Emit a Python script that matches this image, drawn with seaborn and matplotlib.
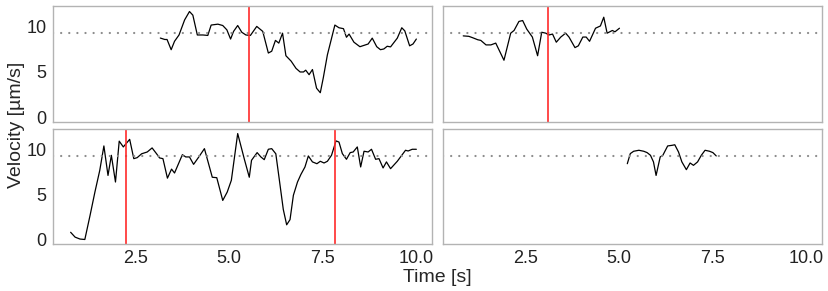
import numpy as np
import pandas as pd
import seaborn as sns
import matplotlib.pyplot as plt

# traces, one per panel (time in s, velocity in um/s)
t_a = [3.16, 3.28, 3.34, 3.45, 3.54, 3.66, 3.81, 3.94, 4.03, 4.15, 4.30, 4.43, 4.52, 4.70,
       4.83, 4.94, 5.04, 5.12, 5.23, 5.34, 5.45, 5.57, 5.74, 5.90, 6.05, 6.14, 6.24, 6.33,
       6.43, 6.52, 6.66, 6.79, 6.90, 6.99, 7.05, 7.14, 7.23, 7.34, 7.44, 7.52, 7.63, 7.83,
       7.94, 8.06, 8.14, 8.21, 8.34, 8.50, 8.61, 8.72, 8.83, 8.95, 9.05, 9.14, 9.23, 9.32,
       9.50, 9.62, 9.70, 9.83, 9.92, 10.01]
v_a = [8.76, 8.6, 8.6, 7.47, 8.4, 9.1, 10.77, 11.7, 11.3, 9.1, 9.1, 9.05, 10.2, 10.3,
       10.15, 9.67, 8.65, 9.5, 10.15, 9.4, 9.1, 9.05, 10.05, 9.5, 7.1, 7.3, 8.5, 8.2,
       9.3, 6.8, 6.2, 5.4, 5.0, 5.0, 5.2, 4.7, 5.27, 3.2, 2.7, 4.35, 6.9, 10.2,
       9.9, 9.8, 8.85, 9.2, 8.3, 7.8, 7.95, 8.1, 8.75, 7.8, 7.47, 7.55, 7.85, 7.78,
       8.75, 9.9, 9.56, 7.9, 8.1, 8.65]

t_b = [0.83, 0.98, 1.08, 1.22, 1.30, 1.44, 1.57, 1.70, 1.92, 2.10, 2.19, 2.32, 2.42, 2.53,
       2.68, 2.82, 2.93, 3.04, 3.12, 3.22, 3.32, 3.44, 3.57, 3.66, 3.82, 3.91, 4.03, 4.12,
       4.21, 4.37, 4.50, 4.59, 4.68, 4.82, 4.89, 5.01]
v_b = [9.0, 8.95, 8.8, 8.57, 8.5, 8.0, 8.0, 8.2, 6.3, 9.3, 9.6, 10.6, 10.7, 9.75,
       8.87, 6.8, 9.4, 9.3, 9.1, 9.2, 8.3, 8.87, 9.3, 8.87, 7.7, 7.9, 8.87, 8.87,
       8.4, 9.85, 10.1, 11.07, 9.3, 9.6, 9.45, 9.85]

t_c = [0.76, 0.88, 1.01, 1.14, 1.28, 1.41, 1.54, 1.65, 1.76, 1.85, 1.96, 2.06, 2.17, 2.34,
       2.45, 2.54, 2.66, 2.81, 2.94, 3.06, 3.14, 3.23, 3.35, 3.46, 3.54, 3.75, 3.84, 3.94,
       4.05, 4.19, 4.34, 4.55, 4.67, 4.83, 4.95, 5.06, 5.23, 5.41, 5.54, 5.60, 5.75, 5.85,
       5.94, 6.05, 6.14, 6.25, 6.34, 6.45, 6.54, 6.63, 6.72, 6.83, 6.92, 7.03, 7.12, 7.23,
       7.35, 7.44, 7.54, 7.63, 7.74, 7.86, 7.94, 8.03, 8.14, 8.24, 8.32, 8.43, 8.52, 8.61,
       8.72, 8.81, 8.92, 9.01, 9.12, 9.21, 9.32, 9.50, 9.72, 9.79, 9.90, 10.01]
v_c = [0.8, 0.26, 0.05, 0.0, 2.67, 5.26, 7.67, 10.37, 7.1, 9.33, 6.37, 10.9, 10.26, 11.1,
       8.96, 9.07, 9.5, 9.7, 10.15, 9.5, 9.04, 8.96, 6.8, 7.8, 7.37, 9.4, 9.15, 9.15,
       8.33, 9.15, 10.07, 6.9, 6.85, 4.33, 5.26, 6.56, 11.74, 8.87, 6.9, 8.78, 9.63, 9.15,
       8.85, 10.0, 10.07, 9.5, 6.74, 3.33, 1.63, 2.2, 4.9, 6.37, 7.2, 8.04, 9.26, 8.6,
       8.4, 8.67, 8.48, 8.67, 9.33, 10.93, 10.8, 9.52, 8.89, 9.63, 9.7, 10.26, 8.04, 9.78,
       9.7, 10.0, 8.89, 8.96, 7.93, 8.6, 7.85, 8.67, 9.89, 9.81, 10.0, 10.0]

t_d = [5.22, 5.30, 5.39, 5.53, 5.66, 5.75, 5.84, 5.92, 5.99, 6.10, 6.17, 6.30, 6.42, 6.49,
       6.59, 6.68, 6.80, 6.90, 6.99, 7.10, 7.20, 7.30, 7.42, 7.51, 7.60]
v_d = [8.4, 9.52, 9.78, 9.89, 9.78, 9.63, 9.33, 8.6, 7.1, 9.15, 9.33, 10.37, 10.44, 10.5,
       9.7, 8.6, 7.74, 8.48, 8.22, 8.6, 9.33, 9.89, 9.78, 9.63, 9.26]

cells = ["A", "B", "C", "D"]
events = {"A": [5.52], "B": [3.09], "C": [2.24, 7.84], "D": []}
ref_velocity = 9.3

df = pd.concat([
    pd.DataFrame({"cell": c, "time": t, "velocity": v})
    for c, t, v in zip(cells, [t_a, t_b, t_c, t_d], [v_a, v_b, v_c, v_d])
])

sns.set_style("white")
plt.rcParams["font.family"] = ["Liberation Sans", "DejaVu Sans"]

fig, axes = plt.subplots(2, 2, figsize=(8.29, 2.91), dpi=100, sharex=True, sharey=True)
fig.subplots_adjust(left=0.064, right=0.9916, top=0.979, bottom=0.1615,
                    wspace=0.029, hspace=0.06)

for ax, c in zip(axes.flat, cells):
    sns.lineplot(data=df[df["cell"] == c], x="time", y="velocity", ax=ax,
                 color="black", lw=0.9, estimator=None, sort=False)
    ax.axhline(ref_velocity, color="#8c8c8c", lw=1.6, linestyle=(0, (0.05, 3.6)),
               dash_capstyle="round")
    for e in events[c]:
        ax.axvline(e, color="#ff2a2a", lw=1.2)
    ax.set_xlim(0.29, 10.43)
    ax.set_ylim(-0.5, 12.3)
    ax.set_xticks([2.5, 5.0, 7.5, 10.0])
    ax.set_yticks([0, 5, 10])
    ax.set_xlabel("")
    ax.set_ylabel("")
    for s in ax.spines.values():
        s.set_color("#b3b3b3")
        s.set_linewidth(1.0)
    ax.tick_params(length=3, width=0.8, color="#b3b3b3", labelsize=13,
                   labelcolor="#222222", pad=1.5)

axes[0, 0].tick_params(bottom=False)
axes[0, 1].tick_params(bottom=False, left=False)
axes[1, 1].tick_params(left=False)
axes[1, 0].set_xticklabels(["2.5", "5.0", "7.5", "10.0"])

fig.text(0.528, 0.048, "Time [s]", ha="center", va="center", fontsize=14)
fig.text(0.02, 0.57, "Velocity [µm/s]", ha="center", va="center",
         rotation=90, fontsize=14)

fig.savefig("out.png", dpi=100)
